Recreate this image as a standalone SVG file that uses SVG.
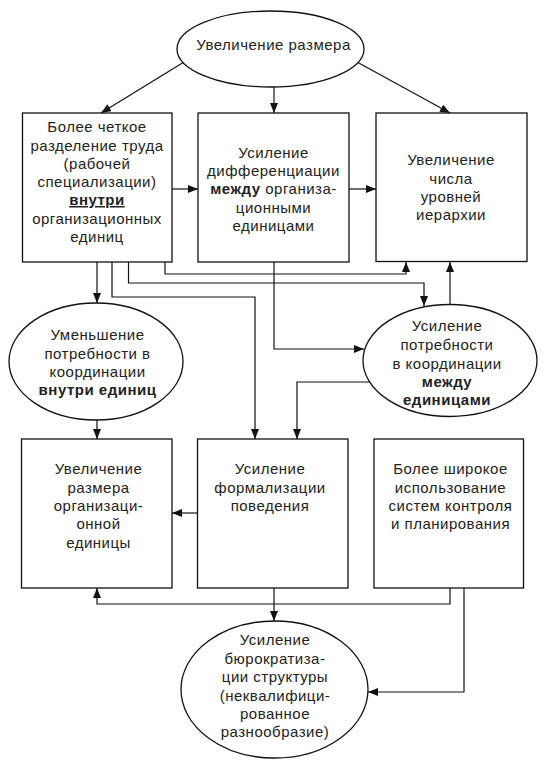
<svg xmlns="http://www.w3.org/2000/svg" width="548" height="765" viewBox="0 0 548 765">
<defs>
<marker id="ah" markerWidth="10" markerHeight="8" refX="10" refY="4" orient="auto" markerUnits="userSpaceOnUse">
<path d="M0,0 L10,4 L0,8 z" fill="#111"/>
</marker>
<style>
.n{fill:#fff;stroke:#111;stroke-width:1.3}
.t{font-family:"Liberation Sans",Arial,sans-serif;font-size:15px;letter-spacing:0.5px;fill:#222;text-anchor:middle}
.b{font-weight:bold}
.c{fill:none;stroke:#111;stroke-width:1.2;marker-end:url(#ah)}
.l{fill:none;stroke:#111;stroke-width:1.2}
</style>
</defs>
<rect width="548" height="765" fill="#fff"/>
<g id="connectors">
<path class="c" d="M184,62 L101,113"/>
<path class="c" d="M274,87 L274,113"/>
<path class="c" d="M357,62 L450,113"/>
<path class="c" d="M172,189 L198,189"/>
<path class="c" d="M349,189 L376,189"/>
<path class="c" d="M97,262 L97,303"/>
<path class="c" d="M112,262 L112,297 L255,297 L255,439"/>
<path class="c" d="M128.5,262 L128.5,283 L424,283 L424,306"/>
<path class="c" d="M165,262 L165,274 L406,274 L406,262"/>
<path class="c" d="M274,262 L274,349 L364,349"/>
<path class="c" d="M450,304 L450,262"/>
<path class="c" d="M370,382 L297,382 L297,439"/>
<path class="c" d="M97,420 L97,439"/>
<path class="c" d="M198,513 L172,513"/>
<path class="c" d="M274,588 L274,621"/>
<path class="c" d="M450,588 L450,604 L97,604 L97,588"/>
<path class="c" d="M464,588 L464,692 L368,692"/>
</g>
<g id="size">
<ellipse class="n" cx="270.5" cy="49" rx="93.5" ry="38"/>
<text class="t" x="273.5" y="50">Увеличение размера</text>
</g>
<g id="division">
<rect class="n" x="22.5" y="113" width="149.5" height="149"/>
<text class="t" x="97" y="132">Более четкое</text>
<text class="t" x="97" y="150.5">разделение труда</text>
<text class="t" x="97" y="169">(рабочей</text>
<text class="t" x="97" y="187">специализации)</text>
<text class="t b" x="97" y="205" text-decoration="underline">внутри</text>
<text class="t" x="97" y="223.5">организационных</text>
<text class="t" x="97" y="242">единиц</text>
</g>
<g id="differentiation">
<rect class="n" x="198" y="113" width="151" height="149"/>
<text class="t" x="273.5" y="157.5">Усиление</text>
<text class="t" x="273.5" y="176">дифференциации</text>
<text class="t" x="273.5" y="194"><tspan class="b">между</tspan> организа-</text>
<text class="t" x="273.5" y="212.5">ционными</text>
<text class="t" x="273.5" y="231">единицами</text>
</g>
<g id="levels">
<rect class="n" x="376" y="113" width="151" height="148.5"/>
<text class="t" x="451" y="165">Увеличение</text>
<text class="t" x="451" y="183.5">числа</text>
<text class="t" x="451" y="202">уровней</text>
<text class="t" x="451" y="220">иерархии</text>
</g>
<g id="less-coordination">
<ellipse class="n" cx="96" cy="361.5" rx="87" ry="58.5"/>
<text class="t" x="97.5" y="340">Уменьшение</text>
<text class="t" x="97.5" y="358.5">потребности в</text>
<text class="t" x="97.5" y="377">координации</text>
<text class="t b" x="97.5" y="395">внутри единиц</text>
</g>
<g id="more-coordination">
<ellipse class="n" cx="450" cy="360.5" rx="87" ry="56"/>
<text class="t" x="447" y="331">Усиление</text>
<text class="t" x="447" y="349.5">потребности</text>
<text class="t" x="447" y="368.5">в координации</text>
<text class="t b" x="447" y="387">между</text>
<text class="t b" x="447" y="405">единицами</text>
</g>
<g id="unit-size">
<rect class="n" x="21.5" y="439" width="150.5" height="149"/>
<text class="t" x="98.5" y="473.5">Увеличение</text>
<text class="t" x="98.5" y="492.5">размера</text>
<text class="t" x="98.5" y="511">организаци-</text>
<text class="t" x="98.5" y="528.5">онной</text>
<text class="t" x="98.5" y="547.5">единицы</text>
</g>
<g id="formalization">
<rect class="n" x="197.5" y="439" width="150.5" height="149"/>
<text class="t" x="270" y="473.5">Усиление</text>
<text class="t" x="270" y="492.5">формализации</text>
<text class="t" x="270" y="511">поведения</text>
</g>
<g id="control">
<rect class="n" x="374" y="439" width="149.5" height="149"/>
<text class="t" x="450.5" y="473.5">Более широкое</text>
<text class="t" x="450.5" y="492.5">использование</text>
<text class="t" x="450.5" y="511">систем контроля</text>
<text class="t" x="450.5" y="528.5">и планирования</text>
</g>
<g id="bureaucratization">
<ellipse class="n" cx="274.5" cy="689.5" rx="93.5" ry="68.5"/>
<text class="t" x="275" y="645">Усиление</text>
<text class="t" x="275" y="664">бюрократиза-</text>
<text class="t" x="275" y="682">ции структуры</text>
<text class="t" x="275" y="701">(неквалифици-</text>
<text class="t" x="275" y="718.5">рованное</text>
<text class="t" x="275" y="737">разнообразие)</text>
</g>
</svg>
